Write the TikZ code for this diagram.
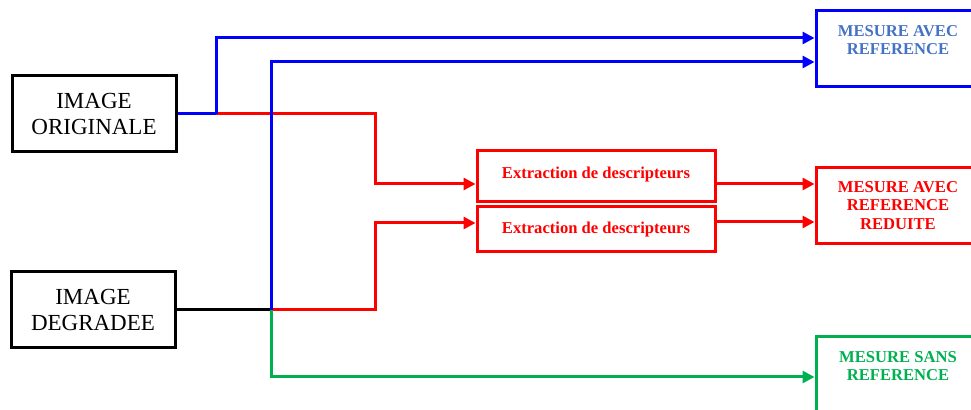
\documentclass[tikz,border=0pt]{standalone}
\usepackage{fontspec}
\setmainfont{Liberation Serif}
\usetikzlibrary{arrows.meta}
\definecolor{txtblue}{RGB}{68,114,196}
\definecolor{sansgreen}{RGB}{0,176,80}

\begin{document}
\begin{tikzpicture}[x=0.5pt, y=-0.5pt,
  imgbox/.style={draw, line width=1.5pt, minimum width=82pt, minimum height=38pt, align=center, font=\fontsize{11.5}{13}\selectfont},
  mbox/.style={draw, line width=1.5pt, minimum width=82pt, minimum height=38pt, align=center, font=\fontsize{8.3}{9.3}\selectfont\bfseries},
  xbox/.style={draw=red, text=red, line width=1.5pt, minimum width=119pt, font=\fontsize{8.3}{9.3}\selectfont\bfseries},
  wire/.style={line width=1.5pt},
  arr/.style={wire, -{Triangle[length=6pt, width=6pt]}}]
\path[use as bounding box, clip] (0,0) rectangle (971,410);

% Inputs
\node[imgbox] (orig) at (94,114) {IMAGE\\ORIGINALE};
\node[imgbox] (degr) at (93,310) {IMAGE\\DEGRADEE};

% Descriptor extraction
\node[xbox, minimum height=25.5pt, text depth=4pt] (extA) at (596,176.5) {Extraction de descripteurs};
\node[xbox, minimum height=22.5pt] (extB) at (596,229.5) {Extraction de descripteurs};

% Quality measures
\node[mbox, draw=blue, text=txtblue, text depth=9pt] (mref) at (898,49) {MESURE AVEC\\REFERENCE};
\node[mbox, draw=red, text=red] (mred) at (898,205.5) {MESURE AVEC\\REFERENCE\\REDUITE};
\node[mbox, draw=sansgreen, text=sansgreen, text depth=9pt] (msans) at (898,375) {MESURE SANS\\REFERENCE};

\coordinate (jo) at (216,114);
\coordinate (jd) at (271,310);

\draw[wire] (orig.east) -- (jo);
\draw[wire] (degr.east) -- (jd);
\draw[arr, red] (jo) -| (375,184) -- (extA.west |- 0,184);
\draw[arr, red] (jd) -| (375,223) -- (extB.west |- 0,223);
\draw[arr, red] (extA.east |- 0,184) -- (mred.west |- 0,184);
\draw[arr, red] (extB.east |- 0,222) -- (mred.west |- 0,222);
\draw[wire, blue] (orig.east) -- (jo);
\draw[arr, blue] (jo) |- (mref.west |- 0,38);
\draw[arr, blue] (jd) |- (mref.west |- 0,62);
\draw[arr, sansgreen] (jd) |- (msans.west |- 0,377);
\end{tikzpicture}
\end{document}
